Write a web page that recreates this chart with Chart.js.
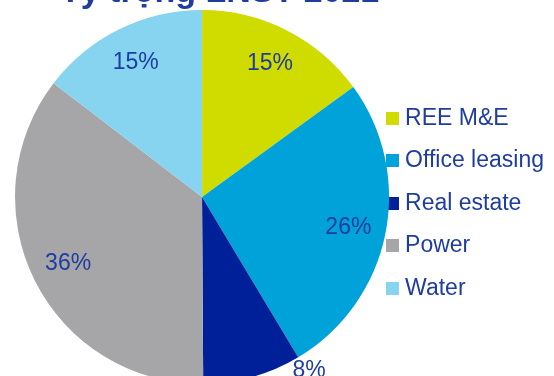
<!DOCTYPE html>
<html lang="vi">
<head>
    <meta charset="UTF-8">
    <title>Tỷ trọng LNST 2021</title>
    <script src="https://cdn.jsdelivr.net/npm/chart.js@4.4.0/dist/chart.umd.min.js"></script>
    <style>
        html, body {
            margin: 0;
            padding: 0;
            width: 554px;
            height: 376px;
            overflow: hidden;
            background: #ffffff;
        }
        #chartTitle {
            position: absolute;
            left: 60px;
            top: -27px;
            font: bold 34px "Liberation Sans", Arial, sans-serif;
            line-height: 34px;
            color: #1f3c9f;
            white-space: nowrap;
            z-index: 2;
        }
        #chartContainer {
            position: absolute;
            left: 0;
            top: 0;
            width: 554px;
            height: 394px;
        }
    </style>
</head>
<body>
<div id="chartTitle">Tỷ trọng LNST 2021</div>
<div id="chartContainer">
    <canvas id="myChart" width="554" height="394"></canvas>
</div>

<script>
    const categories = ['REE M&E', 'Office leasing', 'Real estate', 'Power', 'Water'];
    // slice sizes; the printed labels are rounded
    const shares = [15.0, 26.4, 8.5, 35.5, 14.6];
    const shareLabels = ['15%', '26%', '8%', '36%', '15%'];
    const sliceColors = ['#d0db00', '#00a2da', '#00209a', '#a6a6a9', '#86d4f0'];

    const textColor = '#1f3c9f';
    const fontFamily = '"Liberation Sans", Arial, sans-serif';

    // where each percentage sits: fraction of radius, angle shift in degrees
    const labelRadius = [0.80, 0.80, 1.09, 0.80, 0.80];
    const labelShift = [0, 0.5, -16, 0, 0];

    function squareIcon(color) {
        const c = document.createElement('canvas');
        c.width = 13;
        c.height = 13;
        const g = c.getContext('2d');
        g.fillStyle = color;
        g.fillRect(0, 0, 13, 13);
        return c;
    }

    const sliceLabels = {
        id: 'sliceLabels',
        afterDatasetsDraw(chart) {
            const ctx = chart.ctx;
            const meta = chart.getDatasetMeta(0);
            ctx.save();
            ctx.font = '23px ' + fontFamily;
            ctx.fillStyle = textColor;
            ctx.textAlign = 'center';
            ctx.textBaseline = 'middle';
            meta.data.forEach((arc, i) => {
                const p = arc.getProps(['x', 'y', 'startAngle', 'endAngle', 'outerRadius'], true);
                const mid = (p.startAngle + p.endAngle) / 2 + labelShift[i] * Math.PI / 180;
                const r = p.outerRadius * labelRadius[i];
                ctx.fillText(shareLabels[i], p.x + Math.cos(mid) * r, p.y + Math.sin(mid) * r);
            });
            ctx.restore();
        }
    };

    const ctx = document.getElementById('myChart').getContext('2d');
    const myChart = new Chart(ctx, {
        type: 'pie',
        data: {
            labels: categories,
            datasets: [{
                data: shares,
                backgroundColor: sliceColors,
                borderWidth: 0,
                radius: 187,
                clip: false
            }]
        },
        options: {
            responsive: false,
            animation: false,
            devicePixelRatio: 1,
            layout: {
                padding: {left: 32, right: 0, top: 0, bottom: 0}
            },
            plugins: {
                tooltip: {enabled: false},
                title: {display: false},
                legend: {
                    position: 'right',
                    fullSize: false,
                    title: {
                        display: true,
                        text: '',
                        font: {size: 1},
                        padding: {top: 11.4, bottom: 0}
                    },
                    labels: {
                        usePointStyle: true,
                        pointStyleWidth: 2,
                        padding: 19.5,
                        color: textColor,
                        font: {size: 23, family: fontFamily},
                        generateLabels(chart) {
                            const items = Chart.overrides.pie.plugins.legend.labels.generateLabels(chart);
                            return items.map((item, i) => {
                                item.pointStyle = squareIcon(sliceColors[i]);
                                return item;
                            });
                        }
                    }
                }
            }
        },
        plugins: [sliceLabels]
    });
</script>
</body>
</html>
